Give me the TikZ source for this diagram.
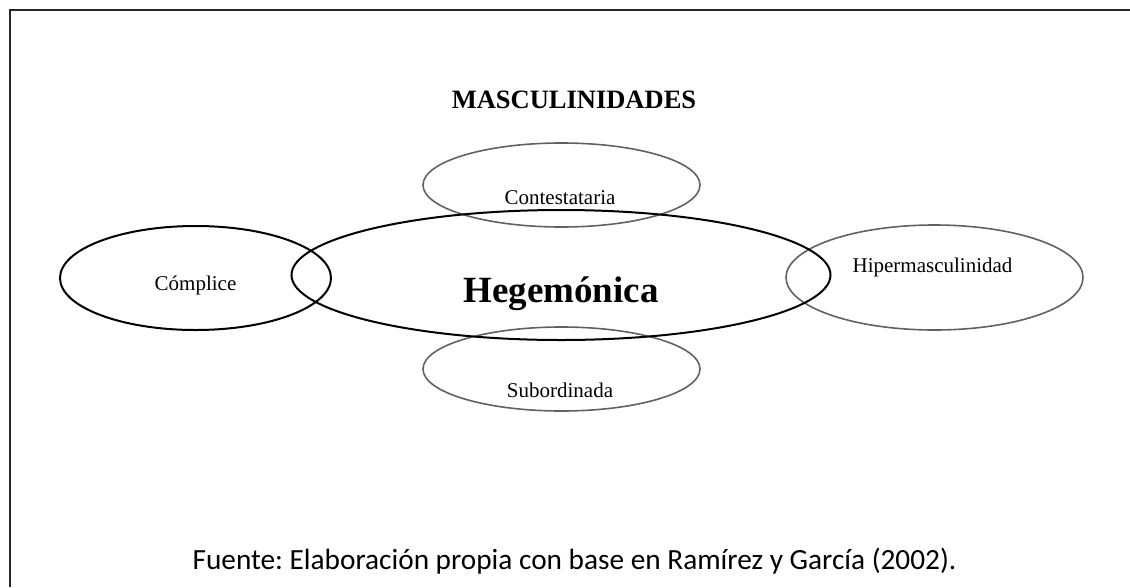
\documentclass[tikz,border=0pt]{standalone}
\usepackage{fontspec}
\setmainfont{Liberation Serif}
\newfontfamily\fuentefont{Carlito}
\usetikzlibrary{shapes.geometric,positioning}
\frenchspacing

\begin{document}
\begin{tikzpicture}[x=1pt, y=-1pt,
    oval/.style={draw, ellipse, inner sep=0pt, line width=2pt},
    ovalgray/.style={oval, line width=1.6pt, draw=black!62},
    lbl/.style={anchor=base, inner sep=0pt, font=\fontsize{21}{25}\selectfont}]
  \useasboundingbox (0,0) rectangle (1130,587);
  % marco
  \draw[line width=1.8pt, black!85] (10,587) -- (10,10) -- (1130,10);
  \node[anchor=base, inner sep=0pt, font=\fontsize{26.5}{31}\selectfont\bfseries] (titulo) at (574,108) {MASCULINIDADES};
  % elipses
  \node[ovalgray, minimum width=277pt, minimum height=84pt] (cont) at (561.5,185) {};
  \node[ovalgray, minimum width=277pt, minimum height=84pt] (subo) at (561.5,369) {};
  \node[ovalgray, minimum width=297pt, minimum height=105pt] (hiper) at (934.5,277.5) {};
  \node[oval, minimum width=271pt, minimum height=104pt] (comp) at (195.5,278) {};
  \node[oval, minimum width=539pt, minimum height=130pt] (hege) at (561,275) {};
  % textos
  \node[lbl, font=\fontsize{37}{44}\selectfont\bfseries] (thege) at ([yshift=-27.7pt]hege.center) {Hegemónica};
  \node[lbl] (tcomp) at ([yshift=-12.7pt]comp.center) {Cómplice};
  \node[lbl] (tcont) at ([xshift=-1.5pt, yshift=-19pt]cont.center) {Contestataria};
  \node[lbl] (tsubo) at ([xshift=-1.5pt, yshift=-28pt]subo.center) {Subordinada};
  \node[lbl] (thiper) at ([xshift=-2pt, yshift=4.8pt]hiper.center) {Hipermasculinidad};
  \node[anchor=base, inner sep=0pt, font=\fuentefont\fontsize{29.3}{35}\selectfont] (fuente) at (574.5,569.5) {Fuente: Elaboración propia con base en Ramírez y García (2002).};
\end{tikzpicture}
\end{document}
